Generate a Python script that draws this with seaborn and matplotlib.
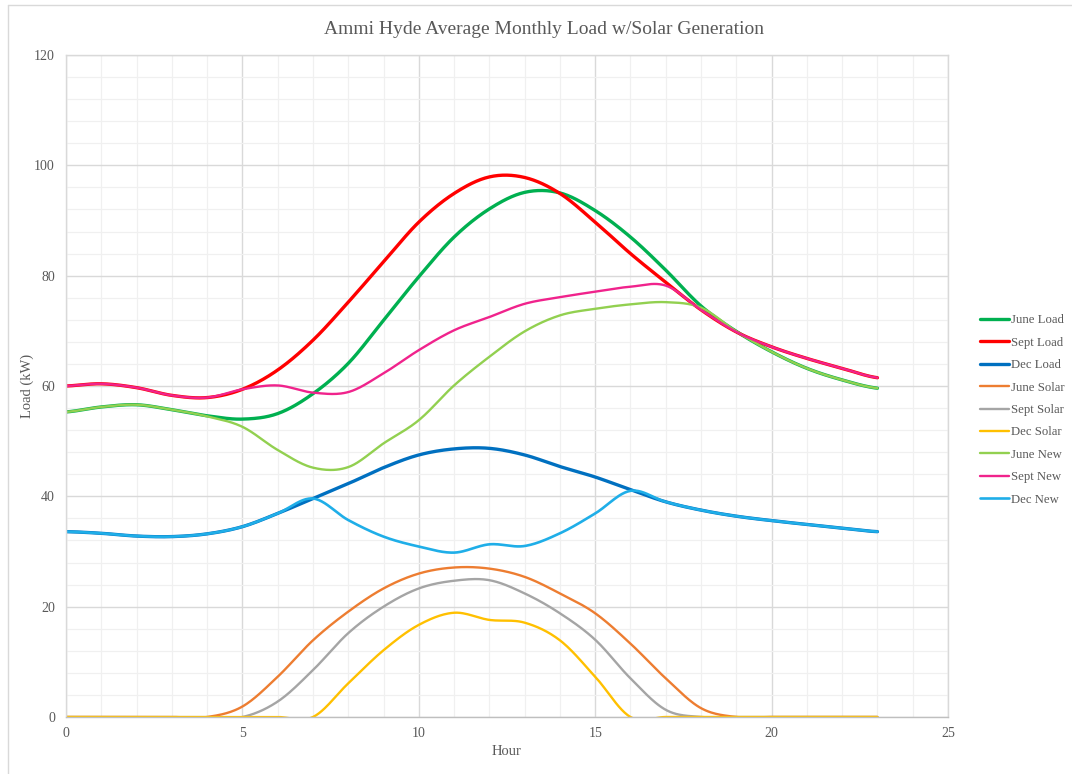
import numpy as np
import pandas as pd
import matplotlib
matplotlib.use("Agg")
import matplotlib.pyplot as plt
from matplotlib.lines import Line2D
import seaborn as sns

hours = list(range(24))
series_names = ["June Load", "Sept Load", "Dec Load", "June Solar", "Sept Solar",
                "Dec Solar", "June New", "Sept New", "Dec New"]

june_load = [55.3, 56.2, 56.6, 55.7, 54.6, 54.0, 55.0, 58.6, 64.1, 71.9, 79.8, 87.0,
             92.1, 95.1, 95.0, 91.8, 87.0, 81.0, 74.5, 69.9, 66.2, 63.2, 61.1, 59.6]
sept_load = [60.0, 60.4, 59.7, 58.3, 57.9, 59.4, 62.9, 68.3, 75.2, 82.5, 89.7, 94.9,
             97.9, 97.8, 94.9, 89.7, 84.0, 78.8, 73.8, 69.8, 67.1, 65.0, 63.2, 61.5]
dec_load = [33.6, 33.3, 32.8, 32.7, 33.2, 34.5, 36.9, 39.6, 42.3, 45.2, 47.5, 48.6,
            48.7, 47.5, 45.4, 43.5, 41.2, 39.0, 37.5, 36.4, 35.6, 34.9, 34.2, 33.6]
june_solar = [0, 0, 0, 0, 0, 1.9, 7.3, 13.9, 19.1, 23.3, 26.0, 27.1,
              26.9, 25.4, 22.4, 18.8, 13.3, 7.0, 1.6, 0, 0, 0, 0, 0]
sept_solar = [0, 0, 0, 0, 0, 0, 2.8, 8.5, 15.2, 20.0, 23.3, 24.7,
              24.8, 22.4, 18.8, 14.0, 7.0, 1.3, 0, 0, 0, 0, 0, 0]
dec_solar = [0, 0, 0, 0, 0, 0, 0, 0, 6.1, 12.1, 16.7, 18.9,
             17.6, 17.1, 13.9, 7.3, 0, 0, 0, 0, 0, 0, 0, 0]
june_new = [55.3, 56.2, 56.6, 55.7, 54.5, 52.6, 48.4, 45.2, 45.3, 49.6, 53.8, 60.1,
            65.3, 69.9, 72.8, 74.0, 74.8, 75.2, 74.2, 69.9, 66.2, 63.2, 61.1, 59.6]
sept_new = [60.0, 60.4, 59.7, 58.3, 57.9, 59.4, 60.1, 58.8, 58.9, 62.3, 66.5, 70.1,
            72.5, 74.9, 76.1, 77.1, 78.0, 78.2, 73.8, 69.8, 67.1, 65.0, 63.2, 61.5]
dec_new = [33.6, 33.3, 32.8, 32.7, 33.2, 34.5, 36.9, 39.6, 35.7, 32.7, 30.9, 29.8,
           31.3, 31.0, 33.3, 36.9, 41.0, 39.0, 37.5, 36.4, 35.6, 34.9, 34.2, 33.6]

series_values = [june_load, sept_load, dec_load, june_solar, sept_solar, dec_solar,
                 june_new, sept_new, dec_new]
colors = ["#00B050", "#FF0000", "#0070C0", "#ED7D31", "#A5A5A5", "#FFC000",
          "#92D050", "#F0238C", "#1FAEE8"]
widths = [2.4, 2.4, 2.4, 1.7, 1.7, 1.7, 1.7, 1.7, 1.9]


def smooth(x, y, n=24):
    """Excel-style smoothed line (Catmull-Rom through the data points)."""
    x = np.asarray(x, float)
    y = np.asarray(y, float)
    xs, ys = [], []
    for i in range(len(x) - 1):
        y0 = y[i - 1] if i > 0 else y[i]
        y3 = y[i + 2] if i + 2 < len(y) else y[i + 1]
        m1 = (y[i + 1] - y0) / 2.0
        m2 = (y3 - y[i]) / 2.0
        t = np.linspace(0, 1, n, endpoint=(i == len(x) - 2))
        h00 = 2 * t**3 - 3 * t**2 + 1
        h10 = t**3 - 2 * t**2 + t
        h01 = -2 * t**3 + 3 * t**2
        h11 = t**3 - t**2
        xs.append(x[i] + t * (x[i + 1] - x[i]))
        ys.append(h00 * y[i] + h10 * m1 + h01 * y[i + 1] + h11 * m2)
    return np.concatenate(xs), np.concatenate(ys)


rows = []
for name, vals in zip(series_names, series_values):
    sx, sy = smooth(hours, vals)
    rows.append(pd.DataFrame({"Hour": sx, "Load": sy, "Series": name}))
df = pd.concat(rows, ignore_index=True)

sns.set_theme(style="white")
plt.rcParams["font.family"] = ["Liberation Serif", "DejaVu Serif"]

fig = plt.figure(figsize=(10.72, 7.74), dpi=100)
ax = fig.add_axes([66 / 1072, 1 - 717 / 774, (948 - 66) / 1072, (717 - 55) / 774])

handles = []
for name, col, lw in zip(series_names, colors, widths):
    sub = df[df["Series"] == name]
    sns.lineplot(data=sub, x="Hour", y="Load", color=col, linewidth=lw,
                 estimator=None, sort=False, ax=ax, legend=False)
    handles.append(Line2D([], [], color=col, linewidth=lw))

ax.set_xlim(0, 25)
ax.set_ylim(0, 120)
ax.set_xticks(range(0, 26, 5))
ax.set_yticks(range(0, 121, 20))
ax.set_xticks(range(0, 26, 1), minor=True)
ax.set_yticks(range(0, 121, 4), minor=True)
ax.grid(which="major", color="#D9D9D9", linewidth=1.0)
ax.grid(which="minor", color="#F0F0F0", linewidth=0.9)
ax.set_axisbelow(True)
for s in ax.spines.values():
    s.set_color("#D9D9D9")
    s.set_linewidth(1.0)
ax.spines["bottom"].set_color("#BFBFBF")
ax.tick_params(axis="both", which="both", length=0, labelsize=10, colors="#595959")
ax.tick_params(axis="y", pad=8)
ax.tick_params(axis="x", pad=7)

ax.set_xlabel("Hour", fontsize=10.5, color="#595959", labelpad=4)
ax.set_ylabel("Load (kW)", fontsize=10.5, color="#595959", labelpad=0)

fig.text(544 / 1072, 1 - 29 / 774, "Ammi Hyde Average Monthly Load w/Solar Generation",
         ha="center", va="center", fontsize=14, color="#595959")

fig.legend(handles, series_names, loc="center left",
           bbox_to_anchor=(980 / 1072, 1 - 410 / 774), frameon=False,
           handlelength=2.3, handletextpad=0.15, labelspacing=0.82,
           borderpad=0, borderaxespad=0, fontsize=9.2, labelcolor="#595959")

fig.add_artist(Line2D([8 / 1072, 8 / 1072], [0, 1 - 5 / 774], color="#D9D9D9", linewidth=1.0))
fig.add_artist(Line2D([8 / 1072, 1], [1 - 5 / 774, 1 - 5 / 774], color="#D9D9D9", linewidth=1.0))

fig.savefig("out.png", dpi=100)
